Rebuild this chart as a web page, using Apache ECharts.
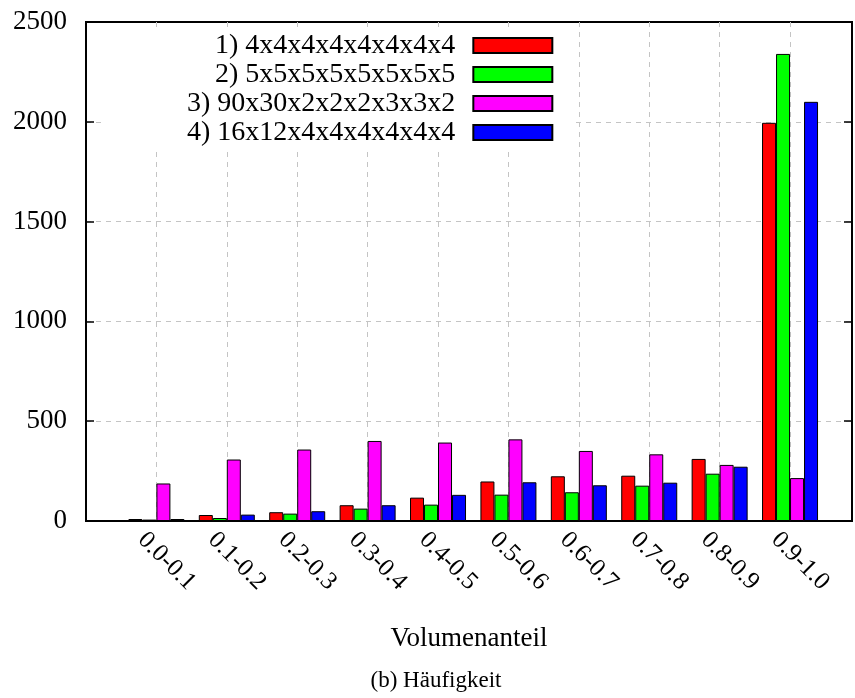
<!DOCTYPE html>
<html>
<head>
<meta charset="utf-8">
<script src="https://cdn.jsdelivr.net/npm/echarts@6/dist/echarts.min.js"></script>
<style>
  html, body { margin: 0; padding: 0; background: #ffffff; }
  #chart { width: 855px; height: 698px; }
</style>
</head>
<body>
<div id="chart"></div>
<script>
// Volume-fraction classes on the x axis
const categories = ['0.0-0.1', '0.1-0.2', '0.2-0.3', '0.3-0.4', '0.4-0.5',
                    '0.5-0.6', '0.6-0.7', '0.7-0.8', '0.8-0.9', '0.9-1.0'];

// Block configurations compared in the histogram
const seriesNames = ['1) 4x4x4x4x4x4x4x4', '2) 5x5x5x5x5x5x5x5',
                     '3) 90x30x2x2x2x3x3x2', '4) 16x12x4x4x4x4x4x4'];

// Frequency per class for each configuration
const config1 = [10, 30, 44, 79, 117, 198, 224, 227, 311, 1995];
const config2 = [7, 15, 37, 62, 82, 132, 144, 177, 237, 2340];
const config3 = [188, 308, 358, 401, 393, 409, 351, 334, 281, 215];
const config4 = [10, 32, 49, 79, 131, 194, 179, 192, 272, 2100];

const seriesColors = ['#ff0000', '#00ff00', '#ff00ff', '#0000ff'];
const yTicks = [0, 500, 1000, 1500, 2000, 2500];

const FONT = '"Liberation Serif", "DejaVu Serif", serif';
const allValues = [config1, config2, config3, config4];

const chart = echarts.init(document.getElementById('chart'), null, { renderer: 'canvas' });

const dashed = { color: '#c4c4c4', width: 1, type: [5, 5] };

const option = {
  animation: false,
  backgroundColor: '#ffffff',
  title: {
    text: '(b) Häufigkeit',
    left: 436,
    top: 669,
    textAlign: 'center',
    padding: 0,
    textStyle: { fontFamily: FONT, fontSize: 23, fontWeight: 'normal', color: '#000' }
  },
  grid: {
    left: 86, right: 3, top: 22, bottom: 177,
    show: true, borderColor: '#000', borderWidth: 2, backgroundColor: 'transparent'
  },
  legend: {
    data: seriesNames,
    orient: 'vertical',
    align: 'right',
    left: 103,
    top: 30,
    padding: [1, 18, 0, 84],
    itemGap: 0,
    itemWidth: 79,
    itemHeight: 15,
    icon: 'rect',
    selectedMode: false,
    backgroundColor: '#ffffff',
    textStyle: { fontFamily: FONT, fontSize: 28, color: '#000', lineHeight: 29, padding: [0, 13, 0, 0] }
  },
  xAxis: {
    type: 'value',
    min: -1,
    max: 9.88,
    interval: 1,
    name: 'Volumenanteil',
    nameLocation: 'middle',
    nameGap: 104,
    nameTextStyle: { fontFamily: FONT, fontSize: 27, color: '#000' },
    axisLine: { show: true, onZero: false, lineStyle: { color: '#000', width: 2 } },
    axisTick: { show: false },
    splitLine: { show: true, showMinLine: false, showMaxLine: false, lineStyle: dashed },
    axisLabel: {
      rotate: -45,
      margin: 30,
      padding: [0, 0, 0, -21],
      fontFamily: FONT,
      fontSize: 25,
      color: '#000',
      showMinLabel: true,
      showMaxLabel: true,
      formatter: function (v) {
        const i = Math.round(v);
        return (Math.abs(v - i) < 1e-6 && categories[i] !== undefined) ? categories[i] : '';
      }
    }
  },
  yAxis: [
    {
      type: 'value',
      position: 'left',
      min: yTicks[0],
      max: yTicks[yTicks.length - 1],
      interval: yTicks[1] - yTicks[0],
      axisLine: { show: true, onZero: false, lineStyle: { color: '#000', width: 2 } },
      axisTick: { show: true, inside: true, length: 8, lineStyle: { color: '#000', width: 1.5 } },
      axisLabel: {
        margin: 19, fontFamily: FONT, fontSize: 27, color: '#000',
        formatter: function (v) { return String(v); }
      },
      splitLine: { show: true, showMinLine: false, showMaxLine: false, lineStyle: dashed }
    },
    {
      type: 'value',
      position: 'right',
      min: yTicks[0],
      max: yTicks[yTicks.length - 1],
      interval: yTicks[1] - yTicks[0],
      axisLine: { show: true, onZero: false, lineStyle: { color: '#000', width: 2 } },
      axisTick: { show: true, inside: true, length: 8, lineStyle: { color: '#000', width: 1.5 } },
      axisLabel: { show: false },
      splitLine: { show: false }
    }
  ],
  series: seriesNames.map(function (name, s) {
    return {
      name: name,
      type: 'bar',
      yAxisIndex: 0,
      barWidth: 14,
      barGap: '0%',
      itemStyle: { color: seriesColors[s], borderColor: '#000', borderWidth: 1 },
      data: categories.map(function (c, i) { return [i, allValues[s][i]]; })
    };
  })
};

chart.setOption(option);
</script>
</body>
</html>
